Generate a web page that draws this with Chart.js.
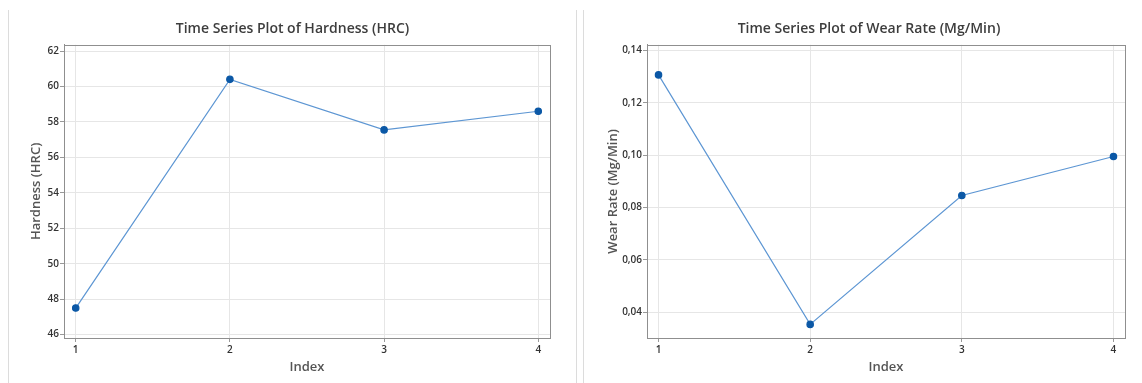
<!DOCTYPE html>
<html>
<head>
<meta charset="utf-8">
<script src="https://cdn.jsdelivr.net/npm/chart.js@4"></script>
<style>
  html, body { margin: 0; padding: 0; background: #fff; overflow: hidden; }
  body { width: 1142px; height: 383px; position: relative; }
  .panel { position: absolute; top: 0; height: 383px; }
  .vline { position: absolute; top: 10px; bottom: 0; width: 1px; background: #dcdcdc; }
</style>
</head>
<body>
<div class="vline" style="left:8px"></div>
<div class="vline" style="left:576px"></div>
<div class="vline" style="left:583px"></div>
<div class="panel" style="left:8px;width:569px"><canvas id="hardness"></canvas></div>
<div class="panel" style="left:584px;width:570px"><canvas id="wear"></canvas></div>
<script>
const indexValues = [1, 2, 3, 4]
const hardness = [47.5, 60.4, 57.55, 58.6]
const wearRate = [0.1307, 0.0353, 0.0846, 0.0995]
const hardnessTicks = [46, 48, 50, 52, 54, 56, 58, 60, 62]
const wearTicks = [0.04, 0.06, 0.08, 0.10, 0.12, 0.14]

const FONT = "'Open Sans', 'Noto Sans', sans-serif"

// minitab style box round the plot area
const boxPlugin = {
  id: "box",
  afterDraw(chart) {
    const { ctx, chartArea: a } = chart
    ctx.save()
    ctx.strokeStyle = "#8f8f8f"
    ctx.lineWidth = 1
    ctx.strokeRect(Math.round(a.left) + 0.5, Math.round(a.top) + 0.5, Math.round(a.right - a.left), Math.round(a.bottom - a.top))
    ctx.restore()
  }
}

function makeChart(id, opts) {
  const ctx = document.getElementById(id).getContext("2d")
  return new Chart(ctx, {
    type: "line",
    data: {
      datasets: [{
        data: indexValues.map((x, i) => ({ x, y: opts.values[i] })),
        borderColor: "#5d96d3",
        borderWidth: 1.2,
        pointBackgroundColor: "#0b58a6",
        pointBorderColor: "#0b58a6",
        pointRadius: 3.2,
        tension: 0
      }]
    },
    options: {
      responsive: true,
      maintainAspectRatio: false,
      animation: false,
      layout: { padding: 0 },
      plugins: {
        legend: { display: false },
        tooltip: { enabled: false },
        title: {
          display: true,
          text: opts.title,
          color: "#3d3d3d",
          font: { family: FONT, size: 14, weight: "600" },
          padding: { top: 21, bottom: 7 }
        }
      },
      scales: {
        x: {
          type: "linear",
          min: 0.924,
          max: 4.076,
          afterBuildTicks: s => { s.ticks = indexValues.map(v => ({ value: v })) },
          afterFit: s => { s.height = 45 },
          ticks: { color: "#333", font: { family: FONT, size: 10, weight: "600" }, padding: 2 },
          grid: { color: "#e6e6e6", tickColor: "#999", tickLength: 4 },
          border: { color: "#8f8f8f" },
          title: {
            display: true, text: "Index", color: "#555",
            font: { family: FONT, size: 13, weight: "600" },
            padding: { top: 0, bottom: 8 }
          }
        },
        y: {
          min: opts.yMin,
          max: opts.yMax,
          afterBuildTicks: s => { s.ticks = opts.ticks.map(v => ({ value: v })) },
          afterFit: s => { s.width = opts.yWidth },
          ticks: { color: "#333", font: { family: FONT, size: 10, weight: "600" }, padding: 1, callback: opts.fmt },
          grid: { color: "#e6e6e6", tickColor: "#999", tickLength: 4 },
          border: { color: "#8f8f8f" },
          title: {
            display: true, text: opts.yTitle, color: "#555",
            font: { family: FONT, size: 13, weight: "600" },
            padding: { top: opts.yTitlePad, bottom: 0 }
          }
        },
        // empty right axis, only keeps room so the title centres on the whole panel
        spacer: {
          axis: "y",
          position: "right",
          display: true,
          afterFit: s => { s.width = opts.rightGap },
          ticks: { display: false },
          grid: { display: false },
          border: { display: false }
        }
      }
    },
    plugins: [boxPlugin]
  })
}

makeChart("hardness", {
  title: "Time Series Plot of Hardness (HRC)",
  yTitle: "Hardness (HRC)",
  values: hardness,
  ticks: hardnessTicks,
  yMin: 45.81, yMax: 62.35,
  yWidth: 56, yTitlePad: 20, rightGap: 27,
  fmt: v => String(v)
})

makeChart("wear", {
  title: "Time Series Plot of Wear Rate (Mg/Min)",
  yTitle: "Wear Rate (Mg/Min)",
  values: wearRate,
  ticks: wearTicks,
  yMin: 0.0301, yMax: 0.1422,
  yWidth: 63, yTitlePad: 21, rightGap: 29,
  fmt: v => v.toFixed(2).replace(".", ",")
})
</script>
</body>
</html>
